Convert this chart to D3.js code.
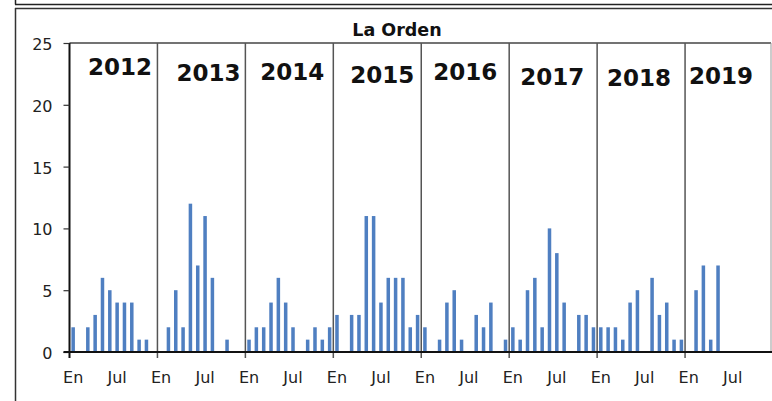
<!DOCTYPE html>
<html>
<head>
<meta charset="utf-8">
<script src="https://cdn.jsdelivr.net/npm/d3@7"></script>
<style>
  html, body { margin: 0; padding: 0; background: #fff; }
  svg { display: block; font-family: "DejaVu Sans", Verdana, sans-serif; }
</style>
</head>
<body>
<svg id="chart" width="772" height="401"></svg>
<script>
// Monthly counts at La Orden, January to December of each year
const years = [2012, 2013, 2014, 2015, 2016, 2017, 2018, 2019];
const values2012 = [2, 0, 2, 3, 6, 5, 4, 4, 4, 1, 1, 0];
const values2013 = [0, 2, 5, 2, 12, 7, 11, 6, 0, 1, 0, 0];
const values2014 = [1, 2, 2, 4, 6, 4, 2, 0, 1, 2, 1, 2];
const values2015 = [3, 0, 3, 3, 11, 11, 4, 6, 6, 6, 2, 3];
const values2016 = [2, 0, 1, 4, 5, 1, 0, 3, 2, 4, 0, 1];
const values2017 = [2, 1, 5, 6, 2, 10, 8, 4, 0, 3, 3, 2];
const values2018 = [2, 2, 2, 1, 4, 5, 0, 6, 3, 4, 1, 1];
const values2019 = [0, 5, 7, 1, 7];
const yearValues = [values2012, values2013, values2014, values2015,
                    values2016, values2017, values2018, values2019];
const monthTickLabels = ["En", "Jul"];   // shown at January and July
const yTicks = [0, 5, 10, 15, 20, 25];
const title = "La Orden";

// Year label placement inside each year panel (offsets from panel centre)
const yearLabelDx = [6.5, 7, 3, 5, 0, -1, -2, -8];
const yearLabelY = [66, 72, 71.5, 74.5, 71.5, 76, 77.5, 75];

const svg = d3.select("#chart");

const plotLeft = 69.5, plotRight = 773, plotTop = 43, plotBottom = 352;

// Flatten into one monthly series
const months = [];
years.forEach((yr, yi) => {
  for (let m = 0; m < 12; m++) {
    const v = yearValues[yi][m];
    months.push({ key: yr + "-" + m, year: yr, month: m, value: v === undefined ? null : v });
  }
});

const x = d3.scaleBand()
  .domain(months.map(d => d.key))
  .range([plotLeft, plotRight])
  .paddingInner(0.52)
  .paddingOuter(0.26);

const step = x.step();
const yearStart = yr => x(yr + "-0") - x.paddingOuter() * step;

const y = d3.scaleLinear().domain([0, 25]).range([plotBottom, plotTop]);

// Outer frames
svg.append("line").attr("x1", 15).attr("x2", 772).attr("y1", 4.5).attr("y2", 4.5)
  .attr("stroke", "#222").attr("stroke-width", 1.5);
svg.append("line").attr("x1", 15.5).attr("x2", 15.5).attr("y1", 0).attr("y2", 4.5)
  .attr("stroke", "#222").attr("stroke-width", 1.5);
svg.append("line").attr("x1", 15).attr("x2", 772).attr("y1", 8.5).attr("y2", 8.5)
  .attr("stroke", "#333").attr("stroke-width", 1.5);
svg.append("line").attr("x1", 15.5).attr("x2", 15.5).attr("y1", 8).attr("y2", 401)
  .attr("stroke", "#333").attr("stroke-width", 1.5);

// Title
svg.append("text")
  .attr("x", 397).attr("y", 36)
  .attr("text-anchor", "middle")
  .attr("font-weight", "bold")
  .attr("font-size", 17.5)
  .attr("fill", "#111")
  .text(title);

// Plot frame (top and right)
svg.append("line").attr("x1", plotLeft).attr("x2", 771).attr("y1", plotTop).attr("y2", plotTop)
  .attr("stroke", "#444").attr("stroke-width", 1.5);
svg.append("line").attr("x1", 771).attr("x2", 771).attr("y1", plotTop).attr("y2", plotBottom)
  .attr("stroke", "#999").attr("stroke-width", 1);

// Year divider lines
svg.append("g").selectAll("line")
  .data(years.slice(1))
  .join("line")
  .attr("x1", d => yearStart(d)).attr("x2", d => yearStart(d))
  .attr("y1", plotTop).attr("y2", plotBottom + 6)
  .attr("stroke", "#555").attr("stroke-width", 1.5);

// Bars
svg.append("g").selectAll("rect")
  .data(months.filter(d => d.value))
  .join("rect")
  .attr("x", d => x(d.key))
  .attr("width", x.bandwidth())
  .attr("y", d => y(d.value))
  .attr("height", d => y(0) - y(d.value))
  .attr("fill", "#4f7fc1");

// Y axis
const yAxis = svg.append("g")
  .attr("transform", `translate(${plotLeft},0)`)
  .call(d3.axisLeft(y).tickValues(yTicks).tickSize(6).tickPadding(11));
yAxis.select(".domain").attr("stroke", "#111").attr("stroke-width", 2)
  .attr("d", `M0,${plotTop}V${plotBottom + 6}`);
yAxis.selectAll(".tick line").attr("stroke", "#333").attr("stroke-width", 1.2);
yAxis.selectAll(".tick text")
  .attr("font-family", "DejaVu Sans, Verdana, sans-serif")
  .attr("font-size", 16).attr("fill", "#222")
  .attr("dy", "0.4em");

// X axis: baseline line and month labels
svg.append("line").attr("x1", plotLeft - 6).attr("x2", 772).attr("y1", plotBottom).attr("y2", plotBottom)
  .attr("stroke", "#111").attr("stroke-width", 2);

const labelMonths = months.filter(d => d.month === 0 || d.month === 6);
svg.append("g").selectAll("text")
  .data(labelMonths)
  .join("text")
  .attr("x", d => x(d.key) + x.bandwidth() / 2)
  .attr("y", 383)
  .attr("text-anchor", "middle")
  .attr("font-size", 16)
  .attr("fill", "#222")
  .text(d => d.month === 0 ? monthTickLabels[0] : monthTickLabels[1]);

// Year labels
svg.append("g").selectAll("text")
  .data(years)
  .join("text")
  .attr("x", (d, i) => yearStart(d) + 6 * step + yearLabelDx[i])
  .attr("y", (d, i) => yearLabelY[i] + 8.5)
  .attr("text-anchor", "middle")
  .attr("font-weight", "bold")
  .attr("font-size", 23)
  .attr("fill", "#111")
  .text(d => d);
</script>
</body>
</html>
